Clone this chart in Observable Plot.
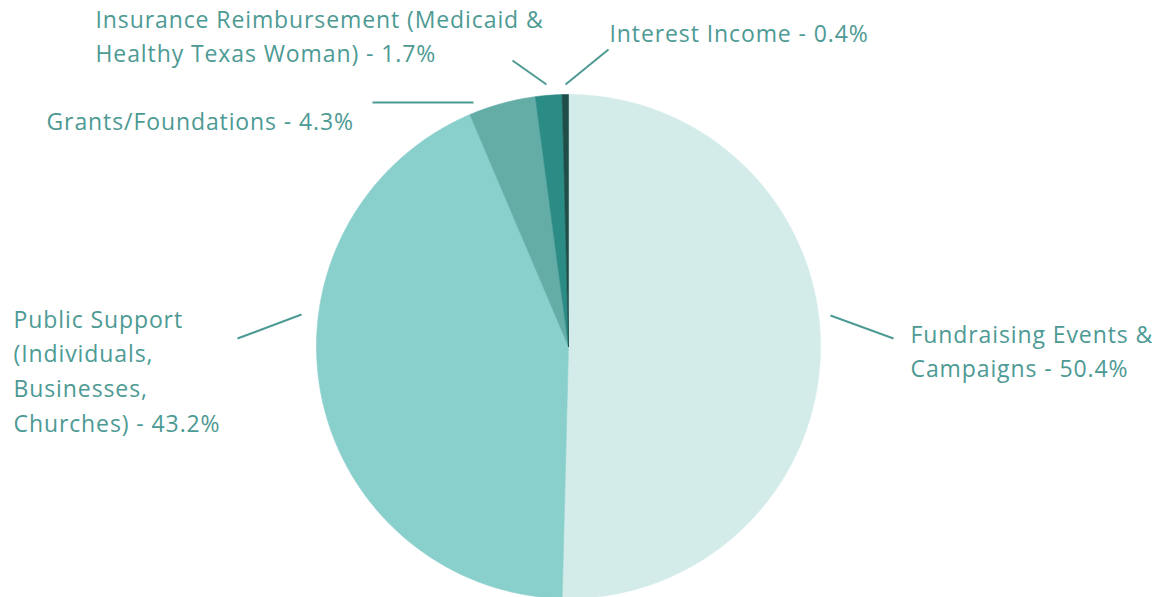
<!DOCTYPE html>
<html><head><meta charset="utf-8">
<script src="https://cdn.jsdelivr.net/npm/d3@7"></script>
<script src="https://cdn.jsdelivr.net/npm/@observablehq/plot@0.6"></script>
<style>html,body{margin:0;padding:0;background:#fff;overflow:hidden} svg text{letter-spacing:0.9px}</style>
</head><body><div id="chart"></div>
<script>
// ---- data ----
const categories = [
  "Fundraising Events & Campaigns",
  "Public Support (Individuals, Businesses, Churches)",
  "Grants/Foundations",
  "Insurance Reimbursement (Medicaid & Healthy Texas Woman)",
  "Interest Income"
];
const shares = [50.4, 43.2, 4.3, 1.7, 0.4];
const labelLines = [
  ["Fundraising Events &", "Campaigns"],
  ["Public Support", "(Individuals,", "Businesses,", "Churches)"],
  ["Grants/Foundations"],
  ["Insurance Reimbursement (Medicaid &", "Healthy Texas Woman)"],
  ["Interest Income"]
];
const colors = ["#d3ecea", "#89cfcc", "#64ada7", "#2b8b85", "#1f4e49"];

// ---- layout (pixels) ----
const W = 1159, H = 597, cx = 568, cy = 346, R = 252;
const textColor = "#4d9a94";
const fontSize = 23;
const lineHeight = 35 / fontSize;
const labelLayout = [
  {x: 910, base: 342, leader: [830, 315, 893, 338]},
  {x: 13, base: 327, leader: [301, 314, 237, 338]},
  {x: 46, base: 129, leader: [473, 102, 372, 102]},
  {x: 95, base: 27, leader: [546, 84, 512, 60]},
  {x: 609, base: 41, leader: [565, 84, 608, 49]}
];

// unit coordinates (radius = 1) mapped to pixels by the scales
const ux = px => (px - cx) / R;
const uy = py => (py - cy) / R;

const arcs = d3.pie().sort(null).value(d => d)(shares);
const slicePts = [];
arcs.forEach((a, i) => {
  const n = Math.max(4, Math.ceil((a.endAngle - a.startAngle) / (Math.PI / 360)));
  slicePts.push({k: i, u: 0, v: 0});
  for (let j = 0; j <= n; j++) {
    const t = a.startAngle + (a.endAngle - a.startAngle) * j / n;
    slicePts.push({k: i, u: Math.sin(t), v: -Math.cos(t)});
  }
  slicePts.push({k: i, u: 0, v: 0});
});

const labels = categories.map((c, i) => ({
  text: labelLines[i].join("\n") + ` - ${shares[i]}%`,
  x: ux(labelLayout[i].x),
  y: uy(labelLayout[i].base - 0.71 * lineHeight * fontSize),
}));
const leaders = labelLayout.map(l => ({
  x1: ux(l.leader[0]), y1: uy(l.leader[1]), x2: ux(l.leader[2]), y2: uy(l.leader[3])
}));

const chart = Plot.plot({
  width: W, height: H,
  margin: 0,
  x: {domain: [ux(0), ux(W)], range: [0, W], axis: null},
  y: {domain: [uy(0), uy(H)], range: [0, H], axis: null},
  color: {type: "identity"},
  style: {fontFamily: "'Open Sans', sans-serif", background: "#fff"},
  marks: [
    Plot.line(slicePts, {x: "u", y: "v", z: "k", fill: d => colors[d.k], stroke: d => colors[d.k], strokeWidth: 0.6, curve: "linear"}),
    Plot.link(leaders, {x1: "x1", y1: "y1", x2: "x2", y2: "y2", stroke: textColor, strokeWidth: 2}),
    Plot.text(labels, {x: "x", y: "y", text: "text", textAnchor: "start", lineAnchor: "top", lineHeight, fontSize, fill: textColor, fontFamily: "Open Sans"})
  ]
});
document.getElementById("chart").appendChild(chart);
</script>
</body></html>
